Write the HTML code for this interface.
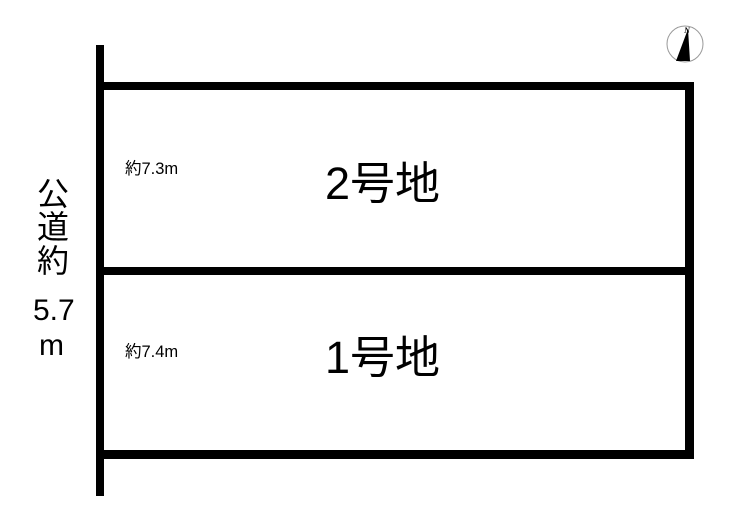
<!DOCTYPE html>
<html><head><meta charset="utf-8"><style>
html,body{margin:0;padding:0;background:#fff;}
body{width:740px;height:520px;position:relative;overflow:hidden;font-family:"Liberation Sans","Noto Sans CJK JP",sans-serif;color:#000;}
.b{position:absolute;background:#000;}
.t{position:absolute;white-space:nowrap;line-height:1;}
</style></head><body>
<div class="b" style="left:96px;top:45px;width:8px;height:451px"></div>
<div class="b" style="left:96px;top:82px;width:598px;height:8px"></div>
<div class="b" style="left:685px;top:82px;width:9px;height:377px"></div>
<div class="b" style="left:96px;top:267px;width:598px;height:8px"></div>
<div class="b" style="left:96px;top:450px;width:598px;height:9px"></div>

<div class="t" style="left:37px;top:178px;font-size:32px;">公</div>
<div class="t" style="left:37px;top:211px;font-size:32px;">道</div>
<div class="t" style="left:37px;top:245px;font-size:32px;">約</div>
<div class="t" style="left:33px;top:296px;font-size:30px;">5.7</div>
<div class="t" style="left:39px;top:331px;font-size:30px;">m</div>

<div class="t" style="left:125px;top:161px;font-size:16.5px;">約7.3m</div>
<div class="t" style="left:125px;top:344px;font-size:16.5px;">約7.4m</div>
<div class="t" style="left:325px;top:161px;font-size:45px;">2号地</div>
<div class="t" style="left:325px;top:335px;font-size:45px;">1号地</div>

<svg style="position:absolute;left:0;top:0" width="740" height="520">
<circle cx="685" cy="44" r="18" fill="none" stroke="#999" stroke-width="1"/>
<polygon points="688,29 676,61 690,61" fill="#000"/>
<text x="687" y="33" font-size="8" font-family="Liberation Serif" font-style="italic" font-weight="bold" text-anchor="middle">N</text>
</svg>
</body></html>
